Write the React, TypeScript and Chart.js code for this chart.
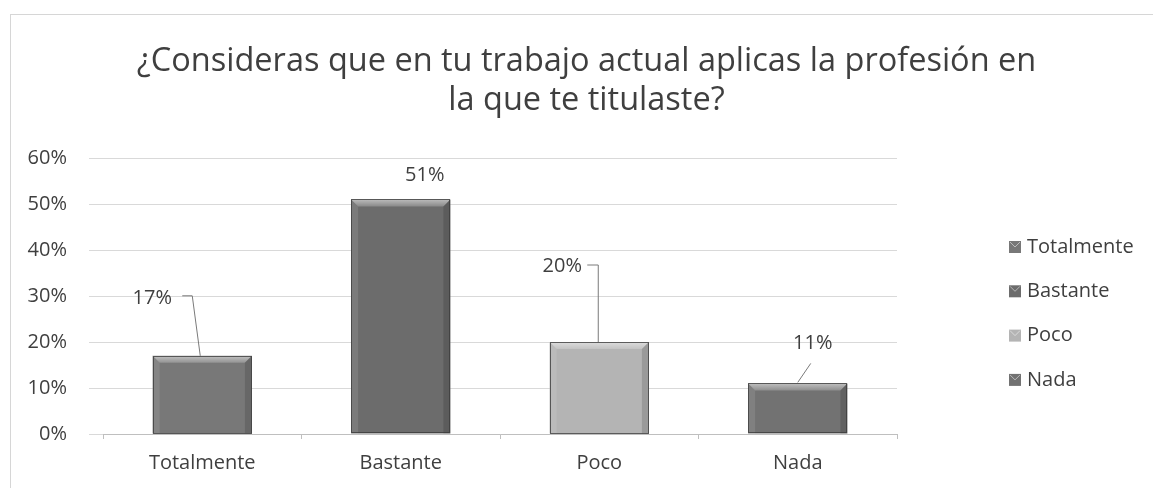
import React, { useEffect, useRef } from "react";
import { Chart, registerables } from "chart.js";

Chart.register(...registerables);

const TITLE_LINES = [
  "¿Consideras que en tu trabajo actual aplicas la profesión en",
  "la que te titulaste?",
];
const categories = ["Totalmente", "Bastante", "Poco", "Nada"];
const percentages = [17, 51, 20, 11];
const yTickValues = [0, 10, 20, 30, 40, 50, 60];
const barColors = ["#787878", "#6c6c6c", "#b4b4b4", "#727272"];

const FONT = "'Open Sans', 'Noto Sans', sans-serif";
const TEXT = "#3f3f3f";

const framePlugin = {
  id: "frame",
  beforeDraw(chart: any) {
    const ctx = chart.ctx;
    ctx.save();
    ctx.strokeStyle = "#d6d6d6";
    ctx.lineWidth = 1;
    ctx.strokeRect(10.5, 14.5, chart.width + 20, chart.height + 20);
    ctx.restore();
  },
};

const bevelPlugin = {
  id: "bevel",
  afterDatasetsDraw(chart: any) {
    const ctx = chart.ctx;
    const meta = chart.getDatasetMeta(0);
    meta.data.forEach((bar: any) => {
      const { x, y, base, width } = bar.getProps(["x", "y", "base", "width"], true);
      const l = x - width / 2;
      const r = x + width / 2;
      const b = 7;
      ctx.save();
      const poly = (pts: number[][], fill: any) => {
        ctx.beginPath();
        ctx.moveTo(pts[0][0], pts[0][1]);
        for (let k = 1; k < pts.length; k++) ctx.lineTo(pts[k][0], pts[k][1]);
        ctx.closePath();
        ctx.fillStyle = fill;
        ctx.fill();
      };
      const g = ctx.createLinearGradient(0, y, 0, y + b);
      g.addColorStop(0, "rgba(255,255,255,0.55)");
      g.addColorStop(1, "rgba(255,255,255,0.2)");
      poly([[l, y], [r, y], [r - b, y + b], [l + b, y + b]], g);
      poly([[l, y], [l + b, y + b], [l + b, base], [l, base]], "rgba(255,255,255,0.10)");
      poly([[r, y], [r - b, y + b], [r - b, base], [r, base]], "rgba(0,0,0,0.14)");
      ctx.strokeStyle = "rgba(60,60,60,0.8)";
      ctx.lineWidth = 1;
      ctx.strokeRect(Math.round(l) + 0.5, Math.round(y) + 0.5, Math.round(width) - 1, Math.round(base - y) - 1);
      ctx.restore();
    });
  },
};

const dataLabelPlugin = {
  id: "dataLabels",
  afterDatasetsDraw(chart: any, _args: any, opts: any) {
    const ctx = chart.ctx;
    const meta = chart.getDatasetMeta(0);
    const values = chart.data.datasets[0].data;
    meta.data.forEach((bar: any, i: number) => {
      const { x, y } = bar.getProps(["x", "y"], true);
      const [dx, dy] = opts.offsets[i];
      const leader = opts.leaders[i];
      ctx.save();
      if (leader && leader.length) {
        ctx.strokeStyle = "#7a7a7a";
        ctx.lineWidth = 1;
        ctx.beginPath();
        leader.forEach((p: number[], k: number) => {
          const px = x + p[0];
          const py = y + p[1];
          if (k === 0) ctx.moveTo(px, py);
          else ctx.lineTo(px, py);
        });
        ctx.stroke();
      }
      ctx.fillStyle = TEXT;
      ctx.font = `20px ${FONT}`;
      ctx.textAlign = "center";
      ctx.textBaseline = "middle";
      ctx.fillText(values[i] + "%", x + dx, y + dy);
      ctx.restore();
    });
  },
};

const sideLegendPlugin = {
  id: "sideLegend",
  afterDraw(chart: any, _args: any, opts: any) {
    const ctx = chart.ctx;
    const labels = chart.data.labels;
    const colors = chart.data.datasets[0].backgroundColor;
    ctx.save();
    ctx.font = `20px ${FONT}`;
    ctx.textBaseline = "middle";
    ctx.textAlign = "left";
    labels.forEach((lab: string, i: number) => {
      const cy = opts.y + i * opts.spacing;
      const s = opts.box;
      ctx.fillStyle = colors[i];
      ctx.fillRect(opts.x, cy - s / 2, s, s);
      ctx.strokeStyle = "rgba(255,255,255,0.5)";
      ctx.lineWidth = 1;
      ctx.beginPath();
      ctx.moveTo(opts.x + 1, cy - s / 2 + 1);
      ctx.lineTo(opts.x + s / 2, cy);
      ctx.lineTo(opts.x + s - 1, cy - s / 2 + 1);
      ctx.stroke();
      ctx.fillStyle = TEXT;
      ctx.fillText(lab, opts.x + s + 6, cy);
    });
    ctx.restore();
  },
};

export default function App() {
  const canvasRef = useRef<HTMLCanvasElement | null>(null);

  useEffect(() => {
    document.body.style.margin = "0";
    const canvas = canvasRef.current;
    if (!canvas) return;
    const chart = new Chart(canvas, {
      type: "bar",
      data: {
        labels: categories,
        datasets: [
          {
            label: "Porcentaje",
            data: percentages,
            backgroundColor: barColors,
            borderWidth: 0,
            barPercentage: 0.5,
            categoryPercentage: 1,
            yAxisID: "y",
          },
        ],
      },
      plugins: [framePlugin, bevelPlugin, dataLabelPlugin, sideLegendPlugin],
      options: {
        animation: false,
        responsive: true,
        maintainAspectRatio: false,
        layout: { padding: { left: 20, right: 0, top: 0, bottom: 10 } },
        plugins: {
          legend: { display: false },
          tooltip: { enabled: false },
          title: {
            display: true,
            text: TITLE_LINES,
            color: TEXT,
            font: { family: FONT, size: 32.5, weight: "normal", lineHeight: 1.2 },
            padding: { top: 42, bottom: 38 },
          },
          dataLabels: {
            offsets: [[-50, -58], [24, -24], [-37, -76], [15, -40]],
            leaders: [
              [[-20, -60], [-10, -60], [-2, 0]],
              [],
              [[-12, -77], [-1, -77], [-1, 0]],
              [[13, -20], [0, -1]],
            ],
          },
          sideLegend: { x: 1009, y: 247, spacing: 44.3, box: 12 },
        } as any,
        scales: {
          x: {
            afterFit: (scale: any) => {
              scale.height = 44;
            },
            grid: {
              display: true,
              drawOnChartArea: false,
              drawTicks: true,
              tickLength: 5,
              color: "#bfbfbf",
            },
            border: { display: true, color: "#bfbfbf" },
            ticks: {
              color: TEXT,
              font: { family: FONT, size: 20 },
              padding: 12,
            },
          },
          y: {
            min: 0,
            max: 60,
            afterFit: (scale: any) => {
              scale.width = 83;
            },
            afterBuildTicks: (scale: any) => {
              scale.ticks = yTickValues.map((v) => ({ value: v }));
            },
            grid: {
              color: "#d9d9d9",
              drawTicks: true,
              tickLength: 14,
            },
            border: { display: false },
            ticks: {
              color: TEXT,
              font: { family: FONT, size: 20 },
              padding: 22,
              callback: (v: any) => v + "%",
            },
          },
          legendSpace: {
            type: "linear",
            position: "right",
            display: true,
            afterFit: (scale: any) => {
              scale.width = 256;
            },
            grid: { display: false, drawTicks: false },
            border: { display: false },
            ticks: { display: false },
          },
        } as any,
      },
    });
    return () => chart.destroy();
  }, []);

  return (
    <div style={{ width: 1153, height: 488, position: "relative" }}>
      <canvas ref={canvasRef} />
    </div>
  );
}
